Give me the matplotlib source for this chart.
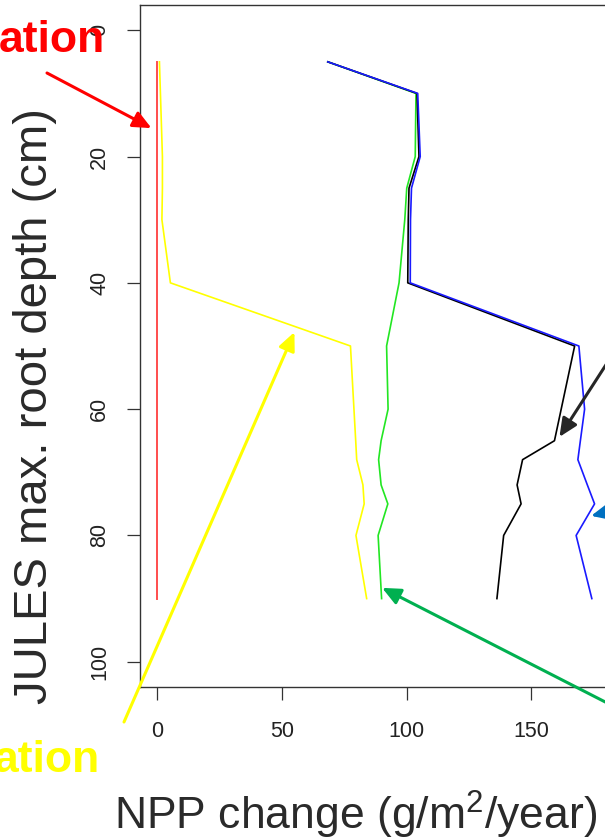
import numpy as np
import matplotlib.pyplot as plt

plt.rcParams['font.family'] = 'Liberation Sans'
plt.rcParams['mathtext.fontset'] = 'custom'
plt.rcParams['mathtext.rm'] = 'Liberation Sans'
plt.rcParams['mathtext.default'] = 'regular'

# max root depth levels (cm) and NPP change per run (g/m2/year)
depth = [5, 10, 20, 25, 30, 40, 50, 60, 65, 68, 72, 75, 80, 90]
npp_red = [0, 0, 0, 0, 0, 0, 0, 0, 0, 0, 0, 0, 0, 0]
npp_yellow = [0.8, 1.2, 2.0, 2.0, 1.8, 5.2, 77.5, 78.9, 79.6, 80.0, 82.5, 83.0, 79.7, 84.0]
npp_green = [68.4, 103.8, 103.5, 100.1, 99.3, 97.0, 92.0, 92.6, 89.8, 88.8, 89.8, 92.5, 88.6, 90.0]
npp_black = [68.4, 104.2, 105.0, 101.0, 100.7, 100.5, 167.5, 162.1, 159.4, 146.6, 144.4, 146.0, 139.0, 136.3]
npp_blue = [68.4, 104.5, 105.5, 102.0, 101.6, 101.5, 169.2, 171.5, 169.8, 168.8, 172.6, 175.5, 168.1, 174.4]

W, H = 605, 840
fig = plt.figure(figsize=(W / 100, H / 100), dpi=100)
ax = fig.add_axes([140 / W, 153 / H, 472 / W, 682 / H])

ax.plot(npp_red, depth, color="#FF4D4D", lw=1.4)
ax.plot(npp_yellow, depth, color="#FFFF00", lw=1.2)
ax.plot(npp_green, depth, color="#22E622", lw=1.2)
ax.plot(npp_black, depth, color="black", lw=1.2)
ax.plot(npp_blue, depth, color="#1A1AFF", lw=1.2)

ax.set_xlim(-7, 182.5)
ax.set_ylim(104, -4)
ax.set_xticks([0, 50, 100, 150])
ax.set_yticks([0, 20, 40, 60, 80, 100])
for s in ax.spines.values():
    s.set_color("#333333")
    s.set_linewidth(1.0)
ax.tick_params(direction="out", length=9.5, width=0.9, color="#333333",
               labelsize=15.5, labelcolor="#222222")
ax.tick_params(axis="x", pad=15)
ax.tick_params(axis="y", pad=12, labelrotation=90)
for lab in ax.get_yticklabels():
    lab.set_va("center")

fig.text(356 / W, 1 - 815 / H, "NPP change (g/m$^2$/year)", fontsize=32,
         color="#2a2a2a", ha="center", va="center")
fig.text(35 / W, 1 - 406 / H, "JULES max. root depth (cm)", fontsize=34,
         color="#2a2a2a", ha="center", va="center", rotation=90)

# scenario labels and pointers
fig.text(105 / W, 1 - 40 / H, "ation", fontsize=32, fontweight="bold",
         color="#FF0000", ha="right", va="center")
fig.text(100 / W, 1 - 760 / H, "ation", fontsize=32, fontweight="bold",
         color="#FFFF00", ha="right", va="center")

arrows = [
    ((-2.4, 15.5), (47, 767), "#FF0000"),
    ((55.0, 47.8), (124, 118), "#FFFF00"),
    ((161.4, 64.4), (640, 528), "#262626"),
    ((174.1, 76.9), (660, 340), "#0070C0"),
    ((90.2, 88.3), (660, 110), "#00B050"),
]
for tip, tail, col in arrows:
    ax.annotate("", xy=tip, xycoords="data", xytext=tail,
                textcoords="figure pixels", annotation_clip=False,
                arrowprops=dict(arrowstyle="-|>,head_length=0.55,head_width=0.25",
                                mutation_scale=20, color=col, lw=2.2,
                                shrinkA=0, shrinkB=0))

fig.savefig("out.png", dpi=100)
